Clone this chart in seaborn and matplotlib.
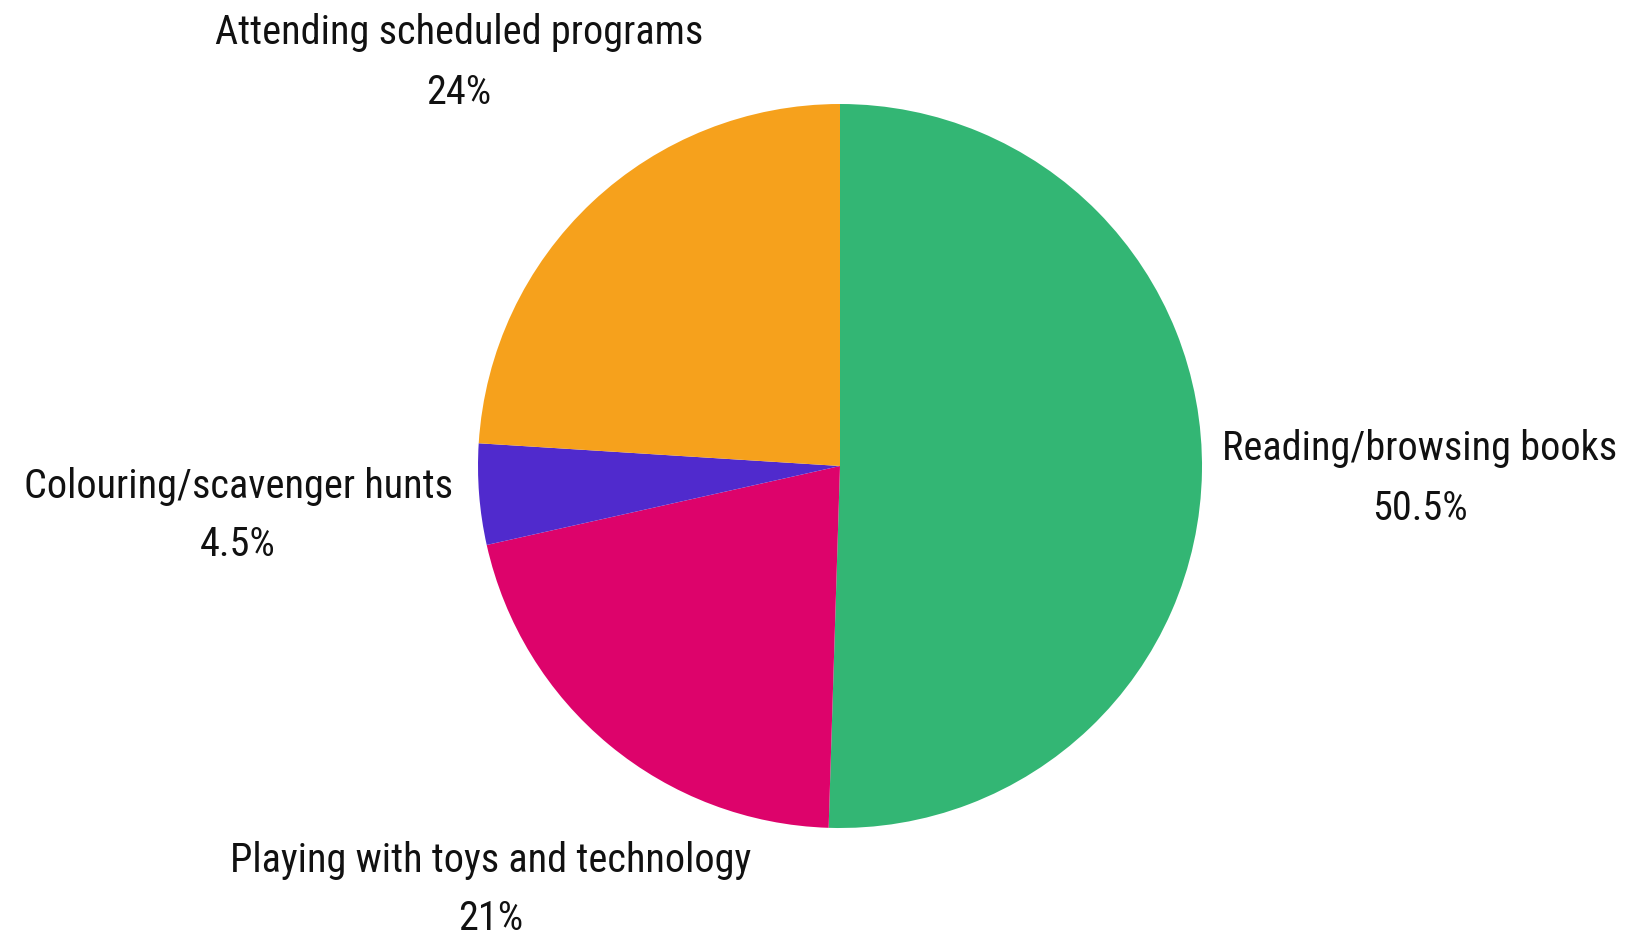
import matplotlib
matplotlib.use("Agg")
import matplotlib.pyplot as plt
from matplotlib import font_manager
import seaborn as sns

categories = ["Reading/browsing books", "Playing with toys and technology",
              "Colouring/scavenger hunts", "Attending scheduled programs"]
shares = [50.5, 21, 4.5, 24]
colors = ["#33B674", "#DD036B", "#502ACD", "#F6A11C"]

sns.set_theme(style="white")
available = {f.name for f in font_manager.fontManager.ttflist}
family = "Roboto"
for cand in ["Roboto Condensed", "Liberation Sans Narrow", "Roboto"]:
    if cand in available:
        family = cand
        break
plt.rcParams["font.family"] = [family, "DejaVu Sans"]

W, H = 1630, 935
fig = plt.figure(figsize=(W / 100, H / 100), dpi=100)
ax = fig.add_axes([0, 0, 1, 1])

ax.pie(shares, colors=colors, startangle=90, counterclock=False,
       center=(840, H - 466), radius=362, frame=True,
       wedgeprops=dict(linewidth=0))
ax.set_xlim(0, W)
ax.set_ylim(0, H)
ax.set_aspect("equal")
ax.axis("off")

# label anchor points (x centre, y of first line) in figure pixels from top
label_pos = [(1420, 449), (491, 860), (238, 486), (459, 33)]
fs = 29
for name, val, (x, y) in zip(categories, shares, label_pos):
    pct = f"{val:g}%"
    ax.text(x, H - y, name, ha="center", va="center", fontsize=fs, color="#111111")
    ax.text(x, H - y - 59, pct, ha="center", va="center", fontsize=fs, color="#111111")

fig.savefig("out.png", dpi=100, facecolor="white")
